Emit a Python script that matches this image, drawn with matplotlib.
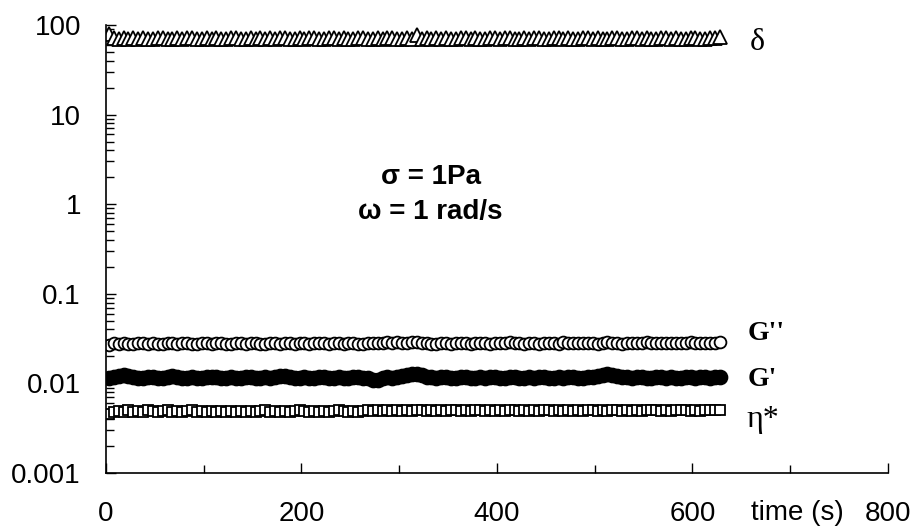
import matplotlib.pyplot as plt
from matplotlib.ticker import FixedLocator, NullFormatter

# time (s)
time = [3, 8, 13, 18, 23, 28, 33, 38, 43, 48,
        53, 58, 63, 68, 73, 78, 83, 88, 93, 98,
        103, 108, 113, 118, 123, 128, 133, 138, 143, 148,
        153, 158, 163, 168, 173, 178, 183, 188, 193, 198,
        203, 208, 213, 218, 223, 228, 233, 238, 243, 248,
        253, 258, 263, 268, 273, 278, 283, 288, 293, 298,
        303, 308, 313, 318, 323, 328, 333, 338, 343, 348,
        353, 358, 363, 368, 373, 378, 383, 388, 393, 398,
        403, 408, 413, 418, 423, 428, 433, 438, 443, 448,
        453, 458, 463, 468, 473, 478, 483, 488, 493, 498,
        503, 508, 513, 518, 523, 528, 533, 538, 543, 548,
        553, 558, 563, 568, 573, 578, 583, 588, 593, 598,
        603, 608, 613, 618, 623, 628]

delta = [80, 71, 70, 72, 69, 71, 70, 72, 70, 69,
         71, 72, 70, 69, 71, 70, 72, 71, 69, 70,
         72, 70, 71, 69, 70, 72, 71, 70, 69, 71,
         70, 72, 69, 71, 70, 71, 72, 70, 69, 71,
         70, 72, 71, 69, 70, 71, 72, 70, 71, 69,
         70, 71, 72, 70, 69, 71, 70, 72, 71, 70,
         69, 71, 70, 78, 70, 71, 69, 72, 70, 71,
         70, 69, 71, 72, 70, 71, 70, 69, 72, 71,
         70, 71, 72, 70, 69, 71, 70, 72, 71, 70,
         69, 71, 72, 70, 71, 69, 70, 72, 71, 70,
         71, 69, 70, 72, 71, 70, 69, 71, 72, 70,
         71, 70, 69, 72, 71, 70, 71, 69, 70, 72,
         71, 70, 69, 71, 72, 74]

g2 = [0.0265, 0.0280, 0.0275, 0.0282, 0.0278, 0.0276, 0.0283, 0.0279, 0.0277, 0.0281,
      0.0278, 0.0275, 0.0282, 0.0279, 0.0276, 0.0280, 0.0284, 0.0278, 0.0276, 0.0281,
      0.0279, 0.0277, 0.0283, 0.0280, 0.0276, 0.0278, 0.0282, 0.0279, 0.0275, 0.0280,
      0.0283, 0.0278, 0.0276, 0.0281, 0.0279, 0.0277, 0.0284, 0.0280, 0.0278, 0.0282,
      0.0279, 0.0276, 0.0281, 0.0285, 0.0280, 0.0278, 0.0283, 0.0279, 0.0277, 0.0282,
      0.0280, 0.0278, 0.0276, 0.0281, 0.0283, 0.0279, 0.0286, 0.0290, 0.0284, 0.0288,
      0.0285, 0.0282, 0.0287, 0.0289, 0.0284, 0.0281, 0.0273, 0.0276, 0.0279, 0.0282,
      0.0278, 0.0281, 0.0284, 0.0279, 0.0277, 0.0282, 0.0286, 0.0280, 0.0278, 0.0283,
      0.0281, 0.0279, 0.0287, 0.0284, 0.0280, 0.0278, 0.0282, 0.0279, 0.0277, 0.0281,
      0.0284, 0.0280, 0.0278, 0.0288, 0.0285, 0.0281, 0.0279, 0.0283, 0.0286, 0.0280,
      0.0278, 0.0282, 0.0287, 0.0283, 0.0280, 0.0278, 0.0284, 0.0281, 0.0279, 0.0285,
      0.0288, 0.0284, 0.0281, 0.0279, 0.0283, 0.0286, 0.0282, 0.0280, 0.0284, 0.0287,
      0.0283, 0.0281, 0.0285, 0.0282, 0.0286, 0.0290]

g1 = [0.0115, 0.0118, 0.0122, 0.0125, 0.0120, 0.0117, 0.0115, 0.0116, 0.0118, 0.0117,
      0.0115, 0.0116, 0.0119, 0.0121, 0.0118, 0.0116, 0.0115, 0.0117, 0.0116, 0.0115,
      0.0117, 0.0119, 0.0118, 0.0116, 0.0115, 0.0117, 0.0116, 0.0115, 0.0117, 0.0118,
      0.0116, 0.0115, 0.0117, 0.0116, 0.0118, 0.0120, 0.0122, 0.0119, 0.0116, 0.0115,
      0.0117, 0.0116, 0.0115, 0.0117, 0.0118, 0.0116, 0.0115, 0.0117, 0.0116, 0.0115,
      0.0117, 0.0118, 0.0116, 0.0115, 0.0110, 0.0109, 0.0114, 0.0117, 0.0116, 0.0118,
      0.0121, 0.0125, 0.0127, 0.0126, 0.0123, 0.0119, 0.0117, 0.0116, 0.0118, 0.0117,
      0.0116, 0.0115, 0.0117, 0.0118, 0.0116, 0.0115, 0.0117, 0.0116, 0.0118, 0.0117,
      0.0115, 0.0116, 0.0117, 0.0118, 0.0116, 0.0115, 0.0117, 0.0116, 0.0118, 0.0117,
      0.0116, 0.0115, 0.0117, 0.0116, 0.0118, 0.0117, 0.0116, 0.0115, 0.0117, 0.0118,
      0.0121, 0.0124, 0.0126, 0.0125, 0.0122, 0.0119, 0.0117, 0.0116, 0.0118, 0.0117,
      0.0116, 0.0115, 0.0117, 0.0118, 0.0116, 0.0117, 0.0115, 0.0116, 0.0118, 0.0117,
      0.0116, 0.0118, 0.0117, 0.0116, 0.0118, 0.0119]

eta = [0.0045, 0.0048, 0.0049, 0.0048, 0.0050, 0.0048, 0.0049, 0.0048, 0.0050, 0.0049,
       0.0048, 0.0049, 0.0050, 0.0048, 0.0049, 0.0048, 0.0049, 0.0050, 0.0048, 0.0049,
       0.0048, 0.0049, 0.0048, 0.0049, 0.0048, 0.0049, 0.0048, 0.0049, 0.0048, 0.0049,
       0.0048, 0.0049, 0.0050, 0.0048, 0.0049, 0.0048, 0.0049, 0.0048, 0.0049, 0.0050,
       0.0049, 0.0048, 0.0049, 0.0048, 0.0049, 0.0048, 0.0049, 0.0050, 0.0049, 0.0048,
       0.0049, 0.0048, 0.0049, 0.0051, 0.0049, 0.0050, 0.0049, 0.0050, 0.0049, 0.0051,
       0.0049, 0.0050, 0.0049, 0.0050, 0.0051, 0.0049, 0.0050, 0.0049, 0.0050, 0.0049,
       0.0051, 0.0050, 0.0049, 0.0050, 0.0049, 0.0050, 0.0051, 0.0049, 0.0050, 0.0049,
       0.0050, 0.0049, 0.0051, 0.0050, 0.0049, 0.0050, 0.0049, 0.0050, 0.0049, 0.0050,
       0.0051, 0.0049, 0.0050, 0.0049, 0.0050, 0.0049, 0.0050, 0.0049, 0.0051, 0.0050,
       0.0049, 0.0050, 0.0049, 0.0050, 0.0051, 0.0049, 0.0050, 0.0049, 0.0050, 0.0049,
       0.0050, 0.0051, 0.0050, 0.0049, 0.0050, 0.0049, 0.0050, 0.0051, 0.0050, 0.0049,
       0.0050, 0.0049, 0.0050, 0.0051, 0.0050, 0.0050]

yticks = [0.001, 0.01, 0.1, 1, 10, 100]
ylabels = ['0.001', '0.01', '0.1', '1', '10', '100']
xticks = [0, 200, 400, 600, 800]
xlabels = ['0', '200', '400', '600', '800']

plt.rcParams['font.family'] = ['Liberation Sans', 'DejaVu Sans']

fig = plt.figure(figsize=(9.16, 5.30), dpi=100)
ax = fig.add_axes([0.1157, 0.1075, 0.8537, 0.8453])

ax.plot(time, delta, ls='none', marker='^', ms=9.5, mfc='white', mec='black', mew=1.3)
ax.plot(time, g2, ls='none', marker='o', ms=8.5, mfc='white', mec='black', mew=1.3)
ax.plot(time, g1, ls='none', marker='o', ms=10, mfc='black', mec='black', mew=1.3)
ax.plot(time, eta, ls='none', marker='s', ms=7, mfc='white', mec='black', mew=1.3)

ax.set_yscale('log')
ax.set_ylim(0.001, 100)
ax.set_xlim(0, 800)

ax.set_yticks(yticks)
ax.set_yticklabels(ylabels)
ax.yaxis.set_minor_locator(FixedLocator(
    [m * 10.0 ** e for e in range(-3, 2) for m in range(2, 10)]))
ax.yaxis.set_minor_formatter(NullFormatter())
ax.set_xticks(xticks)
ax.set_xticklabels(xlabels)
ax.set_xticks([100, 300, 500, 700], minor=True)

ax.tick_params(axis='both', which='both', direction='in', width=1, labelsize=20, colors='black')
ax.tick_params(axis='both', which='major', length=7)
ax.tick_params(axis='both', which='minor', length=6)
ax.tick_params(axis='x', which='major', pad=20)
ax.tick_params(axis='y', which='major', pad=18)

for s in ['top', 'right']:
    ax.spines[s].set_visible(False)
for s in ['left', 'bottom']:
    ax.spines[s].set_linewidth(1.2)

fig.text(797 / 916, 1 - 513 / 530, 'time (s)', fontsize=20, ha='center', va='center')

serif = ['Liberation Serif', 'DejaVu Serif']
fig.text(757 / 916, 1 - 42 / 530, 'δ', family=serif, fontsize=23, ha='center', va='center')
fig.text(766 / 916, 1 - 333 / 530, "G''", family=serif, fontsize=20, fontweight='bold', ha='center', va='center')
fig.text(762 / 916, 1 - 380 / 530, "G'", family=serif, fontsize=20, fontweight='bold', ha='center', va='center')
fig.text(763 / 916, 1 - 420 / 530, 'η*', family=serif, fontsize=23, ha='center', va='center')

fig.text(431 / 916, 1 - 177 / 530, 'σ = 1Pa', fontsize=20, fontweight='bold', ha='center', va='center')
fig.text(430 / 916, 1 - 212 / 530, 'ω = 1 rad/s', fontsize=20, fontweight='bold', ha='center', va='center')

fig.savefig('out.png', dpi=100)
